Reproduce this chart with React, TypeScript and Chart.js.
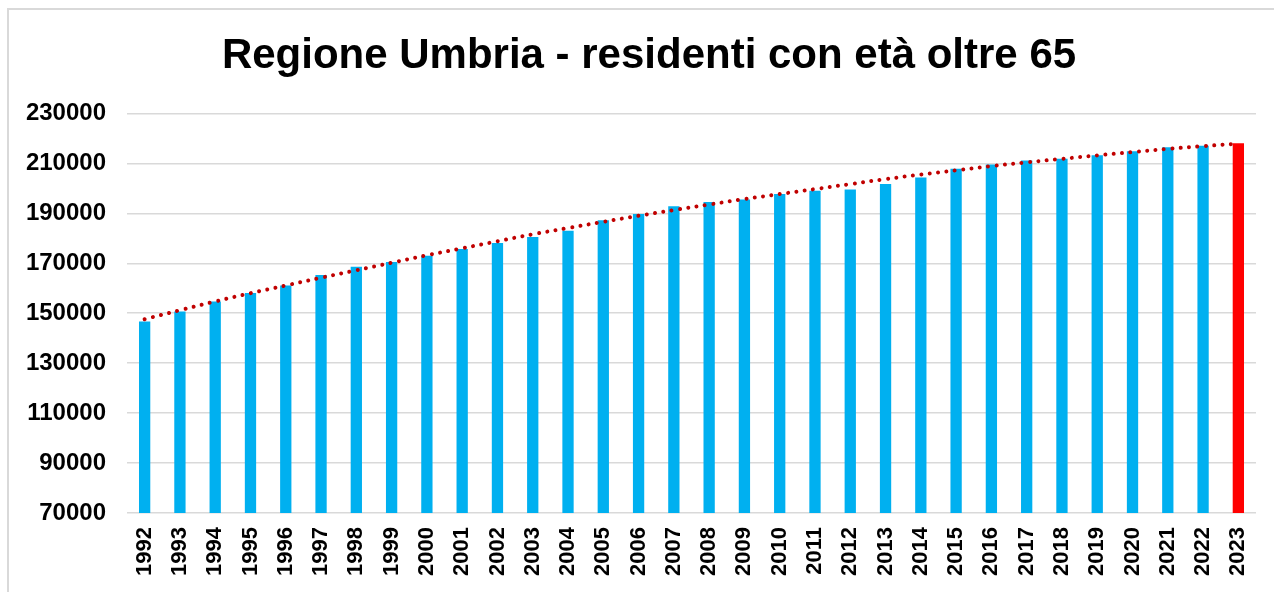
import React, { useEffect, useRef } from "react";
import { Chart, registerables } from "chart.js";

Chart.register(...registerables);

const TITLE = "Regione Umbria - residenti con età oltre 65";

const years = [
  "1992", "1993", "1994", "1995", "1996", "1997", "1998", "1999", "2000", "2001",
  "2002", "2003", "2004", "2005", "2006", "2007", "2008", "2009", "2010", "2011",
  "2012", "2013", "2014", "2015", "2016", "2017", "2018", "2019", "2020", "2021",
  "2022", "2023",
];

const residents65 = [
  146700, 150700, 154700, 158100, 161100, 165300, 168600, 170500, 173000, 175700,
  178100, 180500, 183000, 187200, 189700, 192800, 194500, 195500, 197700, 199000,
  199500, 201700, 204300, 207800, 209500, 211100, 211800, 213200, 214800, 216400,
  217000, 218000,
];

const trendValues = [
  147600, 151200, 154700, 158000, 161100, 164200, 167200, 170200, 173200, 176000,
  178800, 181600, 184100, 186600, 189000, 191300, 193500, 195700, 197700, 199700,
  201700, 203700, 205500, 207200, 208900, 210400, 211800, 213200, 214500, 215800,
  216900, 217900,
];

const yTicks = [70000, 90000, 110000, 130000, 150000, 170000, 190000, 210000, 230000];

const FONT = '"Liberation Sans", Arial, sans-serif';

export default function App() {
  const ref = useRef<HTMLCanvasElement | null>(null);

  useEffect(() => {
    if (!ref.current) return;
    const barColors = residents65.map((_, i) =>
      i === residents65.length - 1 ? "#FF0000" : "#00B0F0"
    );
    const chart = new Chart(ref.current, {
      type: "bar",
      data: {
        labels: years,
        datasets: [
          {
            type: "line",
            label: "Tendenza",
            data: trendValues,
            borderColor: "#C00000",
            borderWidth: 4,
            borderDash: [0.01, 8.4],
            borderCapStyle: "round",
            pointRadius: 0,
            tension: 0.4,
            fill: false,
            order: 0,
          } as any,
          {
            type: "bar",
            label: "Residenti over 65",
            data: residents65,
            backgroundColor: barColors,
            borderWidth: 0,
            categoryPercentage: 1,
            barPercentage: 0.32,
            order: 1,
          },
        ],
      },
      options: {
        animation: false,
        responsive: false,
        maintainAspectRatio: false,
        layout: { padding: 0 },
        plugins: {
          legend: { display: false },
          tooltip: { enabled: false },
          title: {
            display: true,
            text: TITLE,
            color: "#000",
            font: { family: FONT, size: 42, weight: "bold" },
            padding: { top: 21, bottom: 32 },
          },
        },
        scales: {
          x: {
            grid: { display: false, drawTicks: false },
            border: { display: false },
            ticks: {
              color: "#000",
              font: { family: FONT, size: 22, weight: "bold" },
              minRotation: 90,
              maxRotation: 90,
              autoSkip: false,
              padding: 14,
            },
            afterFit: (scale: any) => {
              scale.height = 87;
            },
          },
          y: {
            min: 70000,
            max: 230000,
            afterBuildTicks: (scale: any) => {
              scale.ticks = yTicks.map((v) => ({ value: v }));
            },
            grid: { color: "#d9d9d9", lineWidth: 1.5, drawTicks: false },
            border: { display: false },
            ticks: {
              color: "#000",
              font: { family: FONT, size: 24, weight: "bold" },
              padding: 21,
              callback: (v: any) => String(v),
            },
            afterFit: (scale: any) => {
              scale.width = 118;
            },
          },
          yRight: {
            position: "right",
            min: 70000,
            max: 230000,
            grid: { display: false, drawTicks: false },
            border: { display: false },
            ticks: { display: false },
            afterFit: (scale: any) => {
              scale.width = 33;
            },
          },
        },
      },
    });
    return () => chart.destroy();
  }, []);

  return (
    <div
      style={{
        position: "fixed",
        left: 7,
        top: 8,
        width: 1300,
        height: 600,
        borderLeft: "2px solid #d9d9d9",
        borderTop: "2px solid #d9d9d9",
        background: "#fff",
        overflow: "hidden",
      }}
    >
      <canvas ref={ref} width={1280} height={590} style={{ display: "block" }} />
    </div>
  );
}
